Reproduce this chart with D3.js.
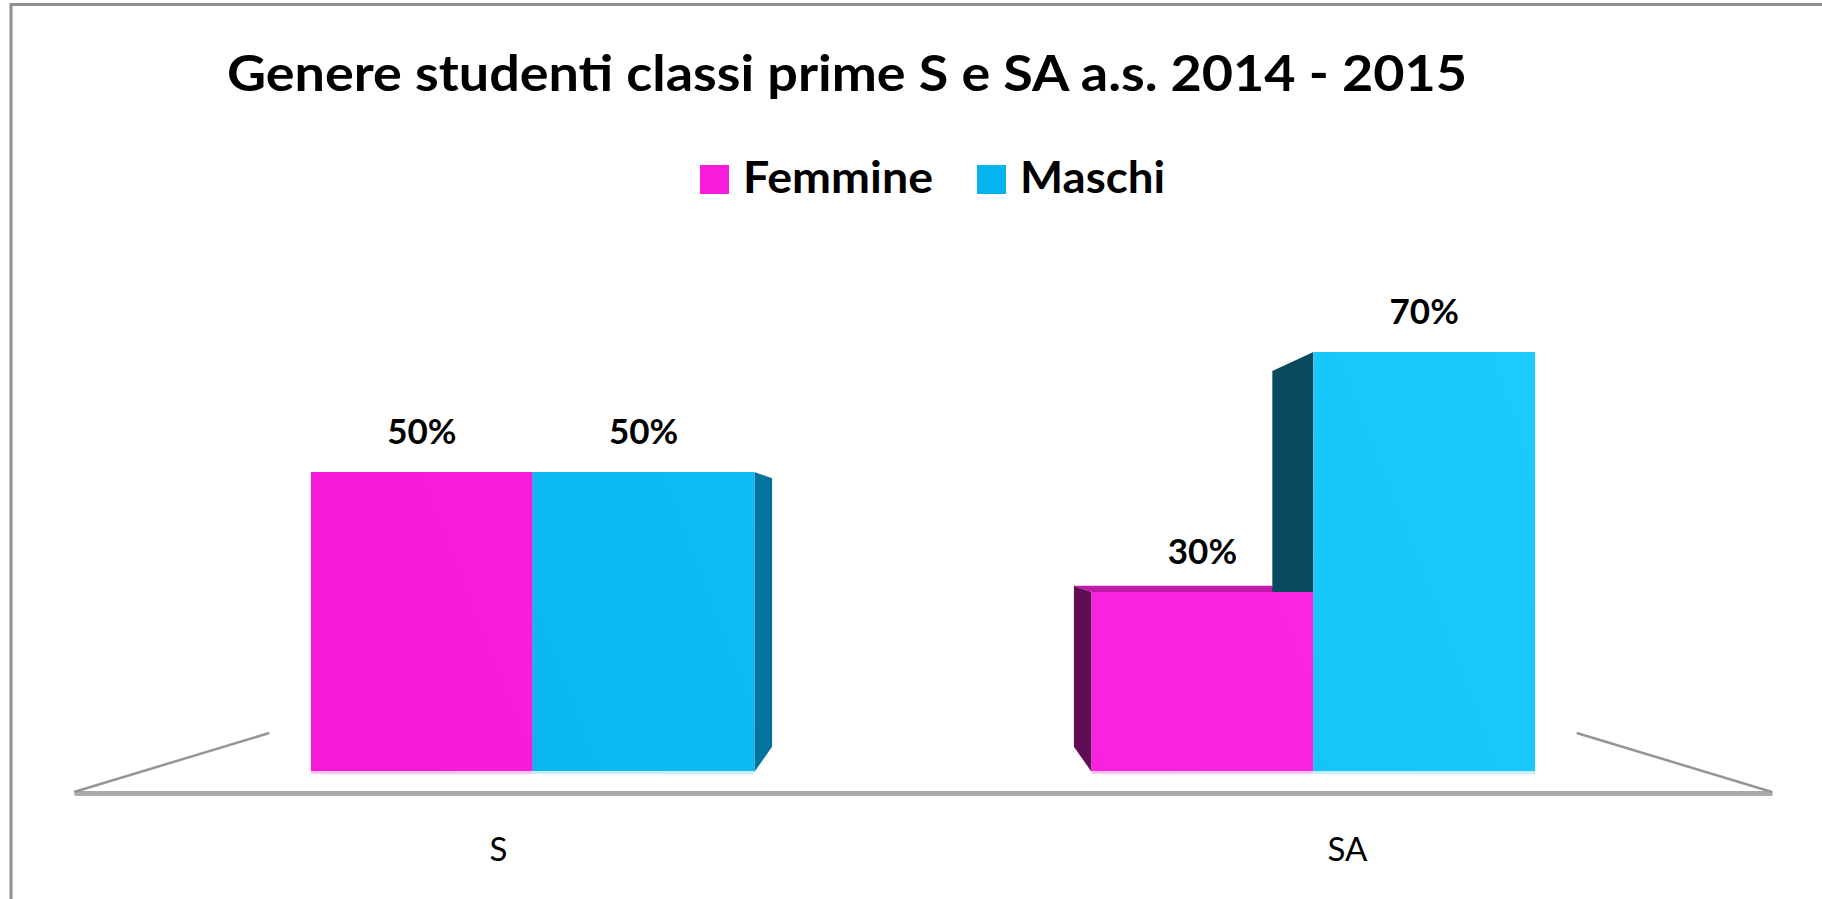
<!DOCTYPE html>
<html>
<head>
<meta charset="utf-8">
<script src="https://cdn.jsdelivr.net/npm/d3@7"></script>
<style>
  html, body { margin: 0; padding: 0; background: #fff; }
  svg { display: block; }
</style>
</head>
<body>
<svg id="chart" width="1822" height="899"></svg>
<script>
// Data
const title = "Genere studenti classi prime S e SA a.s. 2014 - 2015";
const categories = ["S", "SA"];
const seriesNames = ["Femmine", "Maschi"];
const femmine = [50, 30];
const maschi = [50, 70];
const seriesColors = {
  Femmine: ["#F418D6", "#FF2AE6"],
  Maschi: ["#02B0EE", "#20CFFF"]
};

(function() {
  const svg = d3.select("#chart");
  const W = 1822, H = 899;

  // perspective: floor front edge and vanishing point
  const floorY = 793, floorX0 = 74, floorX1 = 1772;
  const vp = { x: (floorX0 + floorX1) / 2, y: 532 };
  const floorBack = 0.23;   // depth of the floor
  const barFront = 0.0805;  // depth of the bar front faces
  const barDepth = 0.105;   // bar thickness toward the vanishing point

  function proj(p, f) {
    return [p[0] + (vp.x - p[0]) * f, p[1] + (vp.y - p[1]) * f];
  }

  const defs = svg.append("defs");
  seriesNames.forEach(function(name) {
    const g = defs.append("linearGradient").attr("id", "grad-" + name)
      .attr("gradientUnits", "userSpaceOnUse")
      .attr("x1", 142).attr("y1", 772).attr("x2", 1704).attr("y2", 172);
    g.append("stop").attr("offset", "0%").attr("stop-color", seriesColors[name][0]);
    g.append("stop").attr("offset", "100%").attr("stop-color", seriesColors[name][1]);
  });

  // frame
  svg.append("line").attr("x1", 10).attr("x2", W).attr("y1", 4.5).attr("y2", 4.5)
    .attr("stroke", "#8e8e8e").attr("stroke-width", 3);
  svg.append("line").attr("x1", 11).attr("x2", 11).attr("y1", 3).attr("y2", H)
    .attr("stroke", "#8e8e8e").attr("stroke-width", 3);

  // title
  svg.append("text").attr("x", 227).attr("y", 91)
    .attr("font-family", "Lato, 'Open Sans', sans-serif").attr("font-weight", 700)
    .attr("font-size", 50).attr("fill", "#000")
    .attr("textLength", 1240).attr("lengthAdjust", "spacingAndGlyphs")
    .text(title);

  // legend
  const legendX = [700, 977];
  const legendW = [190, 145];
  const legend = svg.append("g").attr("class", "legend");
  const items = legend.selectAll("g").data(seriesNames).enter().append("g")
    .attr("transform", (d, i) => `translate(${legendX[i]}, 165)`);
  items.append("rect").attr("width", 29).attr("height", 29)
    .attr("fill", d => d === "Femmine" ? "#F91BDB" : "#05B3EF");
  items.append("text").attr("x", 43).attr("y", 28)
    .attr("font-family", "Lato, 'Open Sans', sans-serif").attr("font-weight", 700)
    .attr("font-size", 43).attr("fill", "#000")
    .attr("textLength", (d, i) => legendW[i]).attr("lengthAdjust", "spacingAndGlyphs")
    .text(d => d);

  // floor: front edge is the category axis
  const xFloor = d3.scaleBand().domain(categories).range([floorX0, floorX1]);
  const axis = svg.append("g").attr("transform", `translate(0, ${floorY})`)
    .call(d3.axisBottom(xFloor).tickSize(0).tickSizeOuter(0).tickPadding(45));
  axis.select(".domain").attr("stroke", "#aaaaaa").attr("stroke-width", 5);
  axis.selectAll(".tick text")
    .attr("font-family", "Lato, 'Open Sans', sans-serif")
    .attr("font-size", 33).attr("fill", "#000");

  // floor side edges going back
  [floorX0, floorX1].forEach(function(x) {
    const back = proj([x, floorY], floorBack);
    svg.append("line").attr("x1", x).attr("y1", floorY - 1)
      .attr("x2", back[0]).attr("y2", back[1])
      .attr("stroke", "#959595").attr("stroke-width", 2.5);
  });

  // bars on the front plane
  const left = proj([floorX0, floorY], barFront);
  const right = proj([floorX1, floorY], barFront);
  const baseY = left[1];
  const x0 = d3.scaleBand().domain(categories).range([left[0], right[0]])
    .paddingInner(0.432).paddingOuter(0.216);
  const x1 = d3.scaleBand().domain(seriesNames).range([0, x0.bandwidth()]);
  const y = d3.scaleLinear().domain([0, 100]).range([baseY, baseY - 600]);

  const bars = [];
  categories.forEach(function(c, i) {
    bars.push({ cat: c, series: "Femmine", value: femmine[i] });
    bars.push({ cat: c, series: "Maschi", value: maschi[i] });
  });
  bars.forEach(function(d) {
    d.x0 = x0(d.cat) + x1(d.series);
    d.x1 = d.x0 + x1.bandwidth();
    d.top = y(d.value);
    d.base = y(0);
  });

  const sideLayer = svg.append("g");
  const frontLayer = svg.append("g");
  const poly = pts => "M" + pts.map(p => p.join(",")).join("L") + "Z";

  bars.forEach(function(d) {
    const base = d3.color(d.series === "Femmine" ? "#FF22E0" : "#12C2FC");
    // left face, visible when the bar lies right of the vanishing point
    if (d.x0 > vp.x) {
      const a = [d.x0, d.top], b = [d.x0, d.base];
      sideLayer.append("path")
        .attr("d", poly([a, proj(a, barDepth), proj(b, barDepth), b]))
        .attr("fill", base.darker(2.7));
    }
    // right face
    if (d.x1 < vp.x) {
      const a = [d.x1, d.top], b = [d.x1, d.base];
      sideLayer.append("path")
        .attr("d", poly([a, proj(a, barDepth), proj(b, barDepth), b]))
        .attr("fill", d3.color("#05B5F3").darker(1.25));
    }
    // top face when the top sits below eye level
    if (d.top > vp.y) {
      const a = [d.x0, d.top], b = [d.x1, d.top];
      sideLayer.append("path")
        .attr("d", poly([a, b, proj(b, barDepth), proj(a, barDepth)]))
        .attr("fill", base.darker(0.8));
    }
    frontLayer.append("rect")
      .attr("x", d.x0).attr("y", d.top)
      .attr("width", d.x1 - d.x0).attr("height", d.base - d.top)
      .attr("fill", `url(#grad-${d.series})`);
    // soft highlight along the base
    frontLayer.append("rect")
      .attr("x", d.x0).attr("y", d.base - 1)
      .attr("width", d.x1 - d.x0).attr("height", 3)
      .attr("fill", d.series === "Femmine" ? "#FDC3F2" : "#C3EEFC");
  });

  // value labels
  svg.append("g").selectAll("text").data(bars).enter().append("text")
    .attr("x", d => (d.x0 + d.x1) / 2).attr("y", d => d.top - 28)
    .attr("text-anchor", "middle")
    .attr("font-family", "Lato, 'Open Sans', sans-serif").attr("font-weight", 700)
    .attr("font-size", 35).attr("fill", "#000")
    .text(d => d.value + "%");
})();
</script>
</body>
</html>
